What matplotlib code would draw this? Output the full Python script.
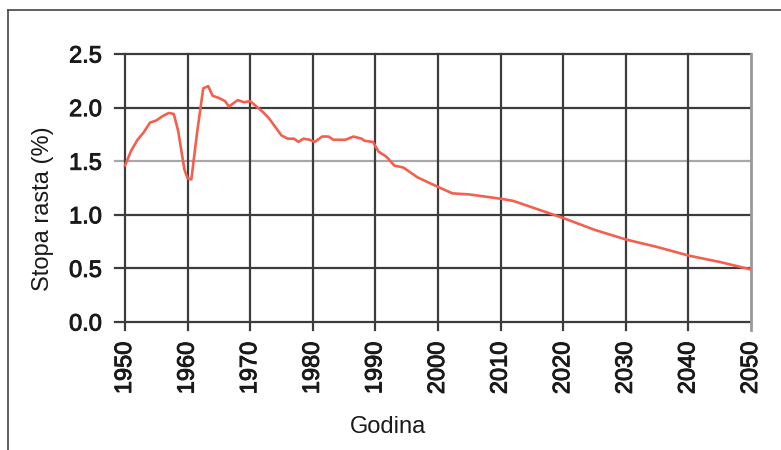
import matplotlib
matplotlib.use("Agg")
import matplotlib.pyplot as plt
from matplotlib.lines import Line2D
import matplotlib.patheffects as pe

plt.rcParams['font.family'] = ['Liberation Sans', 'DejaVu Sans']

years = [1950, 1951, 1952, 1953, 1954, 1955, 1956, 1957, 1957.8, 1958.5, 1959, 1959.5,
         1960, 1960.6, 1961.5, 1962.5, 1963.3, 1964, 1965, 1966, 1966.6, 1968, 1969,
         1970, 1971, 1972, 1973, 1974, 1975, 1976, 1977, 1977.7, 1978.5, 1979.5,
         1980.3, 1981.5, 1982.5, 1983.3, 1985.2, 1986.5, 1987.8, 1988.3, 1989.6,
         1990.5, 1991.8, 1993, 1994.5, 1996.7, 2000, 2002.3, 2005, 2007.5, 2010,
         2012, 2015, 2018, 2020, 2025, 2030, 2035, 2040, 2045, 2050]
rates = [1.46, 1.60, 1.70, 1.77, 1.86, 1.88, 1.92, 1.95, 1.94, 1.78, 1.60, 1.42,
         1.34, 1.33, 1.76, 2.18, 2.20, 2.11, 2.09, 2.06, 2.01, 2.07, 2.05,
         2.06, 2.01, 1.96, 1.90, 1.82, 1.74, 1.71, 1.71, 1.68, 1.71, 1.70,
         1.68, 1.73, 1.73, 1.70, 1.70, 1.73, 1.71, 1.69, 1.68,
         1.59, 1.54, 1.46, 1.44, 1.35, 1.26, 1.20, 1.19, 1.17, 1.15,
         1.13, 1.07, 1.01, 0.97, 0.86, 0.77, 0.70, 0.62, 0.56, 0.49]

x_ticks = [1950, 1960, 1970, 1980, 1990, 2000, 2010, 2020, 2030, 2040, 2050]
y_ticks = [0.0, 0.5, 1.0, 1.5, 2.0, 2.5]
y_tick_labels = ['0.0', '0.5', '1.0', '1.5', '2.0', '2.5']

fig = plt.figure(figsize=(7.81, 4.5), dpi=100)
W, H = 781, 450
ax = fig.add_axes([115 / W, 1 - 330 / H, (751 - 115) / W, (330 - 54) / H])

ax.set_xlim(1950 - 10 / 6.26, 2050)
ax.set_ylim(-8 / 107.2, 2.5)

grid_dark = '#3c3c3c'
for yt in y_ticks:
    c = '#a8a8a8' if yt == 1.5 else grid_dark
    ax.axhline(yt, color=c, lw=1.6, zorder=1, clip_on=False)
for xt in x_ticks:
    c = '#999999' if xt == 2050 else grid_dark
    ax.axvline(xt, color=c, lw=1.6 if xt != 2050 else 2.0, zorder=1, clip_on=False)

ax.plot(years, rates, color='#f3604d', lw=1.9, zorder=3, solid_joinstyle='round')

for s in ax.spines.values():
    s.set_visible(False)

ax.set_xticks(x_ticks)
ax.set_xticklabels([str(x) for x in x_ticks], rotation=90)
ax.set_yticks(y_ticks)
ax.set_yticklabels(y_tick_labels)
ax.tick_params(axis='both', length=0, labelsize=17, colors='#1a1a1a')
ax.tick_params(axis='y', pad=9.5)
ax.tick_params(axis='x', pad=8.4)
for lbl in ax.get_xticklabels() + ax.get_yticklabels():
    lbl.set_path_effects([pe.withStroke(linewidth=0.7, foreground='#1a1a1a')])

fig.text(43 / W, 1 - 209 / H, 'Stopa rasta (%)', rotation=90, ha='center', va='center',
         fontsize=17, color='#1a1a1a')
fig.text(388 / W, 1 - 427 / H, 'Godina', ha='center', va='center', fontsize=17,
         color='#1a1a1a')

# outer frame (top and left edges visible)
fig.add_artist(Line2D([8 / W, 1.0], [1 - 10 / H, 1 - 10 / H], transform=fig.transFigure,
                      color='#444444', lw=1.2))
fig.add_artist(Line2D([8 / W, 8 / W], [0.0, 1 - 10 / H], transform=fig.transFigure,
                      color='#444444', lw=1.2))

fig.savefig('out.png', dpi=100)
